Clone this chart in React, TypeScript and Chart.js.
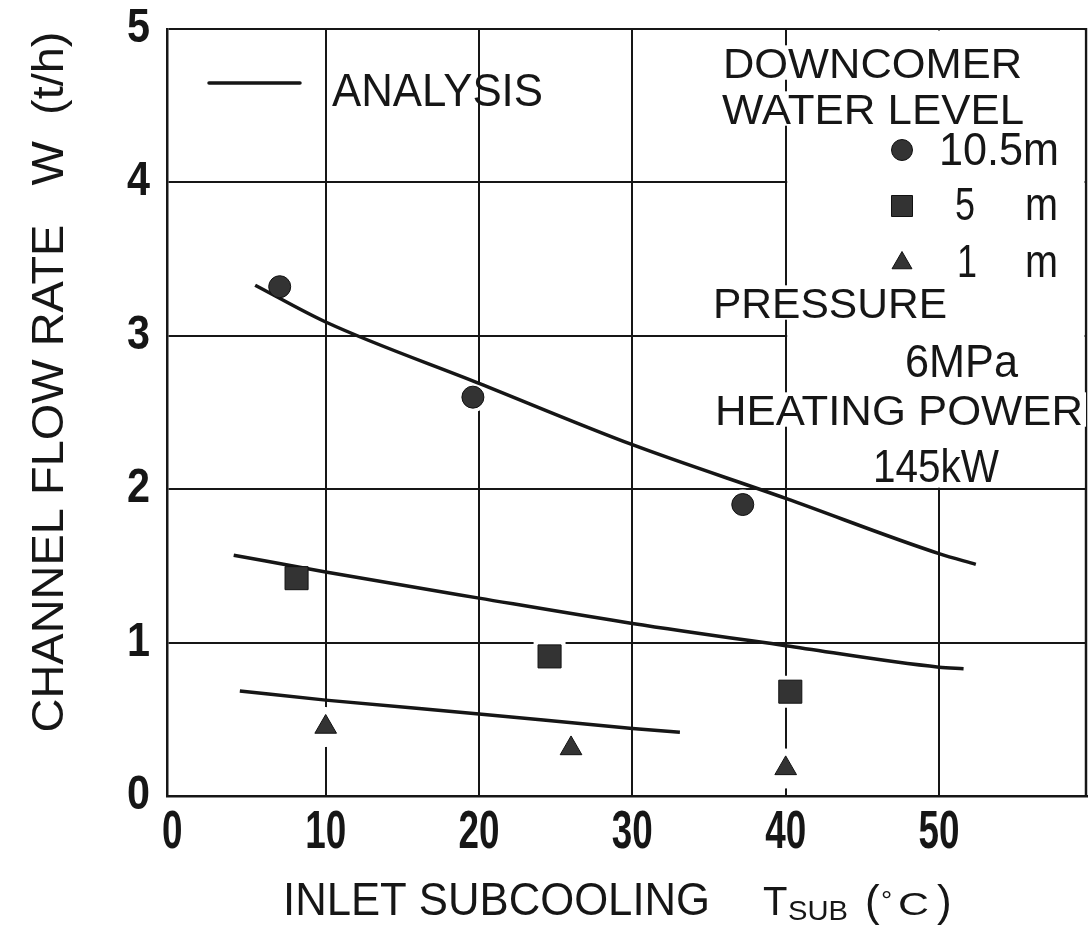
import React, { useEffect, useRef } from 'react';
import { Chart, registerables } from 'chart.js';

Chart.register(...registerables);

const FONT = "'Liberation Sans', Arial, Helvetica, sans-serif";
const INK = '#161616';

// axis ticks
const xTickValues = [0, 10, 20, 30, 40, 50];
const xTickLabels = ['0', '10', '20', '30', '40', '50'];
const yTickValues = [0, 1, 2, 3, 4, 5];
const yTickLabels = ['0', '1', '2', '3', '4', '5'];

// measured points (inlet subcooling °C, channel flow rate t/h)
const level105mX = [7.0, 19.6, 37.2];
const level105mY = [3.32, 2.6, 1.9];
const level5mX = [8.1, 24.6, 40.3];
const level5mY = [1.42, 0.91, 0.68];
const level1mX = [10.0, 26.0, 40.0];
const level1mY = [0.45, 0.31, 0.18];

// analysis curves
const analysis105mX = [5.4, 10, 20, 30, 40, 50, 52.4];
const analysis105mY = [3.33, 3.09, 2.69, 2.29, 1.94, 1.58, 1.51];
const analysis5mX = [4.0, 10, 20, 30, 40, 50, 51.6];
const analysis5mY = [1.57, 1.46, 1.29, 1.125, 0.98, 0.84, 0.83];
const analysis1mX = [4.4, 10, 20, 30, 33.1];
const analysis1mY = [0.685, 0.625, 0.535, 0.44, 0.415];

const pts = (xs: number[], ys: number[]) => xs.map((x, i) => ({ x, y: ys[i] }));

function drawFit(
  ctx: CanvasRenderingContext2D,
  text: string,
  x: number,
  y: number,
  size: number,
  width: number | null,
  align: CanvasTextAlign = 'left',
  weight = 'normal',
  scaleX = 1
) {
  ctx.save();
  ctx.font = `${weight} ${size}px ${FONT}`;
  const w = ctx.measureText(text).width;
  const s = width ? width / w : scaleX;
  ctx.translate(x, y);
  ctx.scale(s, 1);
  ctx.textAlign = align;
  ctx.textBaseline = 'alphabetic';
  ctx.fillStyle = INK;
  ctx.fillText(text, 0, 0);
  ctx.restore();
}

function maskFit(ctx: CanvasRenderingContext2D, x: number, y: number, size: number, width: number) {
  ctx.save();
  ctx.fillStyle = '#ffffff';
  ctx.fillRect(x - 3, y - size * 0.76, width + 6, size * 0.8);
  ctx.restore();
}

function marker(ctx: CanvasRenderingContext2D, style: string, cx: number, cy: number, r: number) {
  ctx.save();
  ctx.fillStyle = '#333333';
  ctx.strokeStyle = '#111111';
  ctx.lineWidth = 1;
  ctx.beginPath();
  if (style === 'circle') {
    ctx.arc(cx, cy, r, 0, Math.PI * 2);
  } else if (style === 'rect') {
    ctx.rect(cx - r, cy - r, 2 * r, 2 * r);
  } else {
    ctx.moveTo(cx, cy - r);
    ctx.lineTo(cx + 0.866 * r, cy + 0.5 * r);
    ctx.lineTo(cx - 0.866 * r, cy + 0.5 * r);
    ctx.closePath();
  }
  ctx.fill();
  ctx.stroke();
  ctx.restore();
}

const notes = [
  { t: 'DOWNCOMER', x: 723, y: 78, size: 43, w: 299 },
  { t: 'WATER LEVEL', x: 722, y: 124, size: 43, w: 302 },
  { t: '10.5m', x: 939, y: 165, size: 46, w: 120 },
  { t: '5', x: 955, y: 220, size: 46, w: 20 },
  { t: 'm', x: 1025, y: 220, size: 46, w: 33 },
  { t: '1', x: 957, y: 277, size: 46, w: 20 },
  { t: 'm', x: 1025, y: 277, size: 46, w: 33 },
  { t: 'PRESSURE', x: 713, y: 318, size: 43, w: 234 },
  { t: '6MPa', x: 905, y: 377, size: 47, w: 113 },
  { t: 'HEATING POWER', x: 715, y: 425, size: 43, w: 368 },
  { t: '145kW', x: 873, y: 482, size: 46, w: 126 },
];

const overlay = {
  id: 'overlay',
  beforeDatasetsDraw(chart: any) {
    const { ctx, chartArea: a, scales } = chart;
    const x = scales.x;
    const y = scales.y;
    ctx.save();
    // right frame edge
    ctx.strokeStyle = INK;
    ctx.lineWidth = 2.5;
    ctx.beginPath();
    ctx.moveTo(a.right - 1, a.top - 1);
    ctx.lineTo(a.right - 1, a.bottom + 1);
    ctx.stroke();
    // clear the notes panel (x > 40, y > 2)
    const x0 = x.getPixelForValue(40) + 1.5;
    const y1 = y.getPixelForValue(2) - 1.5;
    ctx.fillStyle = '#ffffff';
    ctx.fillRect(x0, a.top + 1.5, a.right - 2.5 - x0, y1 - a.top - 1.5);
    ctx.restore();
  },
  afterDraw(chart: any) {
    const { ctx, scales } = chart;
    const x = scales.x;
    const y = scales.y;

    // tick labels
    xTickValues.forEach((v, i) => {
      const lab = xTickLabels[i];
      drawFit(ctx, lab, x.getPixelForValue(v), 848, 53, 20.5 * lab.length, 'center', 'bold');
    });
    yTickValues.forEach((v, i) => {
      drawFit(ctx, yTickLabels[i], 150, y.getPixelForValue(v) + 13, 49, 23, 'right', 'bold');
    });

    // axis titles
    drawFit(ctx, 'INLET SUBCOOLING', 283, 915, 46, 427);
    drawFit(ctx, 'T', 763, 915, 40, null);
    drawFit(ctx, 'SUB', 788, 920, 28, 60);
    drawFit(ctx, '(', 865, 916, 44, null);
    drawFit(ctx, '°', 881, 910, 28, null);
    drawFit(ctx, 'C', 898, 915, 32, 31);
    drawFit(ctx, ')', 937, 916, 44, null);

    ctx.save();
    ctx.translate(63, 382);
    ctx.rotate(-Math.PI / 2);
    drawFit(ctx, 'CHANNEL FLOW RATE   W  (t/h)', 0, 0, 45, 701, 'center');
    ctx.restore();

    // analysis legend
    ctx.save();
    ctx.strokeStyle = INK;
    ctx.lineWidth = 3.5;
    ctx.lineCap = 'round';
    ctx.beginPath();
    ctx.moveTo(209, 83);
    ctx.lineTo(300, 83);
    ctx.stroke();
    ctx.restore();
    drawFit(ctx, 'ANALYSIS', 332, 106, 46, 211);

    // notes panel
    notes.forEach((n) => {
      maskFit(ctx, n.x, n.y, n.size, n.w);
    });
    notes.forEach((n) => {
      drawFit(ctx, n.t, n.x, n.y, n.size, n.w);
    });
    marker(ctx, 'circle', 902, 150, 10.5);
    marker(ctx, 'rect', 902, 206, 10.5);
    marker(ctx, 'triangle', 902, 263, 11.5);
  },
};

export default function App() {
  const canvasRef = useRef<HTMLCanvasElement | null>(null);

  useEffect(() => {
    const canvas = canvasRef.current;
    if (!canvas) return;

    const halo = (data: any[], style: any, r: number) => ({
      type: 'scatter' as const,
      data,
      showLine: false,
      pointStyle: style,
      pointRadius: r,
      pointBackgroundColor: '#ffffff',
      pointBorderColor: '#ffffff',
      pointBorderWidth: 0,
      order: 3,
    });
    const curve = (data: any[]) => ({
      type: 'line' as const,
      data,
      showLine: true,
      borderColor: INK,
      borderWidth: 3.5,
      pointRadius: 0,
      cubicInterpolationMode: 'monotone' as const,
      fill: false,
      order: 2,
    });
    const meas = (data: any[], style: any, r: number) => ({
      type: 'scatter' as const,
      data,
      showLine: false,
      pointStyle: style,
      pointRadius: r,
      pointBackgroundColor: '#333333',
      pointBorderColor: '#111111',
      pointBorderWidth: 1,
      order: 1,
    });

    const d105 = pts(level105mX, level105mY);
    const d5 = pts(level5mX, level5mY);
    const d1 = pts(level1mX, level1mY);

    const chart = new Chart(canvas, {
      type: 'scatter',
      data: {
        datasets: [
          halo(d105, 'circle', 15),
          halo(d5, 'rect', 22.6),
          halo(d1, 'circle', 20),
          curve(pts(analysis105mX, analysis105mY)),
          curve(pts(analysis5mX, analysis5mY)),
          curve(pts(analysis1mX, analysis1mY)),
          meas(d105, 'circle', 11),
          meas(d5, 'rect', 16.3),
          meas(d1, 'triangle', 12.5),
        ] as any,
      },
      options: {
        responsive: false,
        animation: false,
        devicePixelRatio: 1,
        events: [],
        layout: { autoPadding: false, padding: { left: 167, right: 5, top: 29, bottom: 134 } },
        plugins: {
          legend: { display: false },
          tooltip: { enabled: false },
        },
        scales: {
          x: {
            type: 'linear',
            min: -0.35,
            max: 59.65,
            afterBuildTicks: (s: any) => {
              s.ticks = xTickValues.map((v) => ({ value: v }));
            },
            ticks: { display: false },
            grid: {
              drawTicks: false,
              lineWidth: 2,
              color: (c: any) => (c.tick && c.tick.value === 0 ? 'rgba(0,0,0,0)' : INK),
            },
            border: { display: true, color: INK, width: 2.5 },
          },
          y: {
            type: 'linear',
            min: 0,
            max: 5,
            afterBuildTicks: (s: any) => {
              s.ticks = yTickValues.map((v) => ({ value: v }));
            },
            ticks: { display: false },
            grid: { drawTicks: false, lineWidth: 2, color: INK },
            border: { display: true, color: INK, width: 2.5 },
          },
        },
      } as any,
      plugins: [overlay],
    });

    return () => chart.destroy();
  }, []);

  return (
    <div style={{ position: 'absolute', left: 0, top: 0, width: 1092, height: 930, background: '#ffffff' }}>
      <canvas ref={canvasRef} width={1092} height={930} style={{ display: 'block' }} />
    </div>
  );
}
